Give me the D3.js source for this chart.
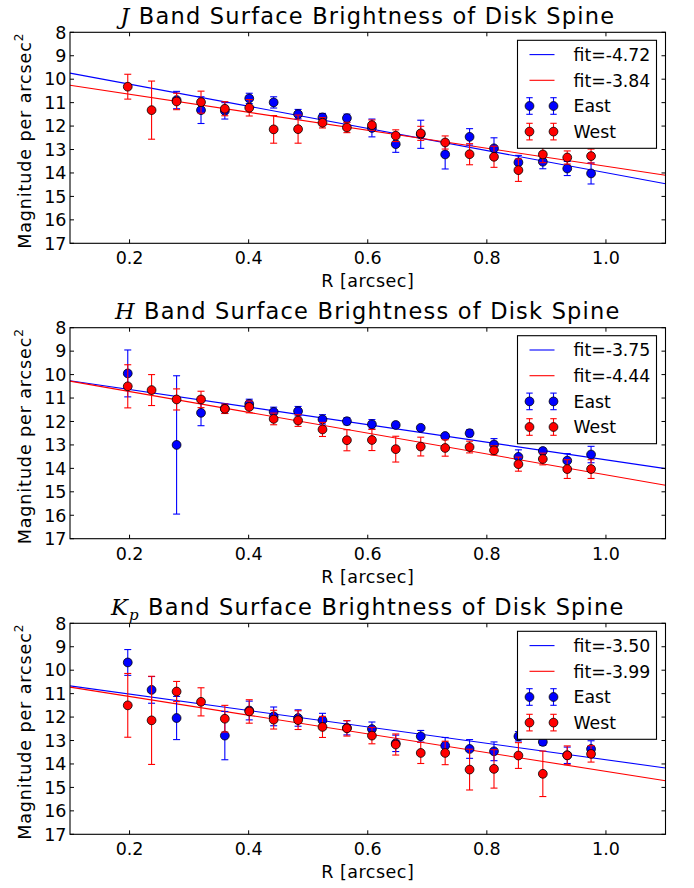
<!DOCTYPE html>
<html>
<head>
<meta charset="utf-8">
<script src="https://cdn.jsdelivr.net/npm/d3@7"></script>
<style>
  body { margin: 0; background: #fff; }
  svg { display: block; font-family: "DejaVu Sans", sans-serif; }
</style>
</head>
<body>
<div id="chart"></div>
<script>
// radial positions (arcsec), shared by all bands
var radius = [0.197, 0.237, 0.279, 0.320, 0.360, 0.401, 0.442, 0.483, 0.524, 0.565,
              0.607, 0.647, 0.689, 0.730, 0.771, 0.812, 0.853, 0.894, 0.935, 0.975]

// J band
var jEast    = [null, null, 10.89, 11.32, 11.35, 10.82, 10.99, 11.49, 11.63, 11.66,
                12.08, 12.77, 12.35, 13.21, 12.46, 12.95, 13.55, 13.52, 13.81, 14.02]
var jEastErr = [0, 0, 0.37, 0.57, 0.35, 0.22, 0.24, 0.2, 0.17, 0.17,
                0.38, 0.35, 0.6, 0.62, 0.35, 0.45, 0.3, 0.3, 0.3, 0.45]
var jWest    = [10.32, 11.32, 10.95, 10.98, 11.26, 11.22, 12.14, 12.13, 11.86, 12.06,
                11.96, 12.41, 12.31, 12.70, 13.20, 13.31, 13.88, 13.21, 13.34, 13.28]
var jWestErr = [0.53, 1.24, 0.35, 0.47, 0.3, 0.35, 0.59, 0.6, 0.22, 0.22,
                0.22, 0.25, 0.3, 0.28, 0.45, 0.45, 0.48, 0.35, 0.28, 0.3]
var jFit     = [-4.72, -3.84]   // East, West
var jFitZero = [9.268, 9.876]

// H band
var hEast    = [9.95, null, 13.0, 11.63, 11.45, 11.25, 11.59, 11.56, 11.91, 11.99,
                12.12, 12.15, 12.27, 12.62, 12.5, 12.98, 13.51, 13.26, 13.67, 13.41]
var hEastErr = [1.0, 0, 2.95, 0.55, 0.2, 0.2, 0.2, 0.2, 0.2, 0.15,
                0.2, 0.12, 0.1, 0.1, 0.15, 0.25, 0.3, 0.12, 0.3, 0.35]
var hWest    = [10.50, 10.66, 11.06, 11.06, 11.46, 11.38, 11.89, 11.96, 12.34, 12.80,
                12.79, 13.18, 13.07, 13.13, 13.09, 13.23, 13.82, 13.60, 14.03, 14.03]
var hWestErr = [0.92, 0.66, 0.45, 0.35, 0.2, 0.25, 0.25, 0.25, 0.3, 0.45,
                0.45, 0.55, 0.4, 0.35, 0.25, 0.2, 0.3, 0.25, 0.4, 0.4]
var hFit     = [-3.75, -4.44]
var hFitZero = [9.885, 9.836]

// Kp band
var kEast    = [9.67, 10.84, 12.04, null, 12.79, 11.72, 11.97, 12.04, 12.14, 12.46,
                12.51, 13.12, 12.82, 13.22, 13.36, 13.46, 12.82, 13.06, 13.63, 13.36]
var kEastErr = [0.55, 0.57, 0.92, 0, 1.03, 0.4, 0.4, 0.35, 0.3, 0.3,
                0.3, 0.35, 0.25, 0.35, 0.4, 0.4, 0.2, 0.15, 0.35, 0.35]
var kWest    = [11.5, 12.14, 10.91, 11.35, 12.07, 11.76, 12.11, 12.13, 12.42, 12.48,
                12.79, 13.17, 13.53, 13.53, 14.24, 14.21, 13.64, 14.42, 13.63, 13.57]
var kWestErr = [1.36, 1.88, 0.43, 0.6, 0.57, 0.5, 0.4, 0.4, 0.45, 0.33,
                0.35, 0.45, 0.45, 0.5, 0.87, 0.82, 0.55, 0.97, 0.4, 0.35]
var kFit     = [-3.50, -3.99]
var kFitZero = [10.32, 10.325]

var yTicks = [8, 9, 10, 11, 12, 13, 14, 15, 16, 17]
var xTicks = [0.2, 0.4, 0.6, 0.8, 1.0]
var seriesNames = ["East", "West"]
var seriesColors = ["#0000ff", "#ff0000"]

var panels = [
  {band: "J", sub: null, vals: [jEast, jWest], errs: [jEastErr, jWestErr], fit: jFit, zero: jFitZero},
  {band: "H", sub: null, vals: [hEast, hWest], errs: [hEastErr, hWestErr], fit: hFit, zero: hFitZero},
  {band: "K", sub: "p",  vals: [kEast, kWest], errs: [kEastErr, kWestErr], fit: kFit, zero: kFitZero}
]

var W = 694, H = 888
var left = 70, right = 665.5, plotH = 211
var tops = [32.3, 327.7, 623.3]

var svg = d3.select("#chart").append("svg")
  .attr("width", W).attr("height", H)

var x = d3.scaleLinear().domain([0.1, 1.1]).range([left, right])

panels.forEach(function(p, i) {
  var top = tops[i]
  var y = d3.scaleLinear().domain([8, 17]).range([top, top + plotH])
  var g = svg.append("g")

  // fit lines
  p.fit.forEach(function(slope, s) {
    var line = d3.line()
      .x(function(d) { return x(d) })
      .y(function(d) { return y(p.zero[s] - slope * d) })
    g.append("path")
      .datum(x.domain())
      .attr("d", line)
      .attr("fill", "none")
      .attr("stroke", seriesColors[s])
      .attr("stroke-width", 1.1)
  })

  // error bars + points, East then West
  p.vals.forEach(function(vals, s) {
    var pts = radius.map(function(r, k) { return {r: r, v: vals[k], e: p.errs[s][k]} })
      .filter(function(d) { return d.v !== null })
    var col = seriesColors[s]
    var eg = g.append("g").attr("stroke", col).attr("stroke-width", 1.1)
    eg.selectAll("line.bar").data(pts).enter().append("line")
      .attr("x1", function(d) { return x(d.r) }).attr("x2", function(d) { return x(d.r) })
      .attr("y1", function(d) { return y(d.v - d.e) }).attr("y2", function(d) { return y(d.v + d.e) })
    eg.selectAll("line.capt").data(pts).enter().append("line")
      .attr("x1", function(d) { return x(d.r) - 3.5 }).attr("x2", function(d) { return x(d.r) + 3.5 })
      .attr("y1", function(d) { return y(d.v - d.e) }).attr("y2", function(d) { return y(d.v - d.e) })
    eg.selectAll("line.capb").data(pts).enter().append("line")
      .attr("x1", function(d) { return x(d.r) - 3.5 }).attr("x2", function(d) { return x(d.r) + 3.5 })
      .attr("y1", function(d) { return y(d.v + d.e) }).attr("y2", function(d) { return y(d.v + d.e) })
    g.selectAll("circle.s" + s).data(pts).enter().append("circle")
      .attr("cx", function(d) { return x(d.r) })
      .attr("cy", function(d) { return y(d.v) })
      .attr("r", 4.4)
      .attr("fill", col)
      .attr("stroke", "#000")
      .attr("stroke-width", 0.8)
  })

  // axes frame
  g.append("rect")
    .attr("x", left).attr("y", top)
    .attr("width", right - left).attr("height", plotH)
    .attr("fill", "none").attr("stroke", "#000").attr("stroke-width", 1.1)

  var tl = 4
  g.selectAll("line.xt").data(xTicks).enter().append("line")
    .attr("x1", function(d) { return x(d) }).attr("x2", function(d) { return x(d) })
    .attr("y1", top + plotH).attr("y2", top + plotH - tl).attr("stroke", "#000")
  g.selectAll("line.xt2").data(xTicks).enter().append("line")
    .attr("x1", function(d) { return x(d) }).attr("x2", function(d) { return x(d) })
    .attr("y1", top).attr("y2", top + tl).attr("stroke", "#000")
  g.selectAll("line.yt").data(yTicks).enter().append("line")
    .attr("x1", left).attr("x2", left + tl)
    .attr("y1", function(d) { return y(d) }).attr("y2", function(d) { return y(d) }).attr("stroke", "#000")
  g.selectAll("line.yt2").data(yTicks).enter().append("line")
    .attr("x1", right).attr("x2", right - tl)
    .attr("y1", function(d) { return y(d) }).attr("y2", function(d) { return y(d) }).attr("stroke", "#000")

  // tick labels
  g.selectAll("text.xl").data(xTicks).enter().append("text")
    .attr("x", function(d) { return x(d) }).attr("y", top + plotH + 21)
    .attr("text-anchor", "middle").attr("font-size", 17.5)
    .text(function(d) { return d.toFixed(1) })
  g.selectAll("text.yl").data(yTicks).enter().append("text")
    .attr("x", left - 3.5).attr("y", function(d) { return y(d) + 6.3 })
    .attr("text-anchor", "end").attr("font-size", 17.5)
    .text(function(d) { return d })

  // axis labels
  g.append("text")
    .attr("x", (left + right) / 2).attr("y", top + plotH + 44)
    .attr("text-anchor", "middle").attr("font-size", 17.5).attr("letter-spacing", 0.5)
    .text("R [arcsec]")
  var yl = g.append("text")
    .attr("transform", "translate(31," + (top + plotH / 2 + 3) + ") rotate(-90)")
    .attr("text-anchor", "middle").attr("font-size", 17.5).attr("letter-spacing", 0.9)
  yl.append("tspan").text("Magnitude per arcsec")
  yl.append("tspan").attr("dy", -8).attr("font-size", 12).text("2")

  // title
  var t = g.append("text")
    .attr("x", (left + right) / 2).attr("y", top - 8.3)
    .attr("text-anchor", "middle").attr("font-size", 22.5).attr("letter-spacing", 1.2)
  t.append("tspan").attr("font-family", "DejaVu Serif").attr("font-style", "italic").text(p.band)
  if (p.sub) {
    t.append("tspan").attr("font-family", "DejaVu Serif").attr("font-style", "italic")
      .attr("font-size", 15).attr("dy", 5).text(p.sub)
    t.append("tspan").attr("dy", -5).text(" Band Surface Brightness of Disk Spine")
  } else {
    t.append("tspan").text(" Band Surface Brightness of Disk Spine")
  }

  // legend
  var lx = right - 9 - 139, ly = top + 8
  var lg = g.append("g")
  lg.append("rect").attr("x", lx).attr("y", ly).attr("width", 139).attr("height", 108)
    .attr("fill", "#fff").attr("stroke", "#000").attr("stroke-width", 1.1)
  var rows = [14.3, 40, 65.7, 91.3]
  p.fit.forEach(function(f, s) {
    var ry = ly + rows[s]
    lg.append("line").attr("x1", lx + 12).attr("x2", lx + 37).attr("y1", ry).attr("y2", ry)
      .attr("stroke", seriesColors[s]).attr("stroke-width", 1.1)
    lg.append("text").attr("x", lx + 56).attr("y", ry + 6.3).attr("font-size", 17.3)
      .text("fit=" + f.toFixed(2))
  })
  seriesNames.forEach(function(name, s) {
    var ry = ly + rows[s + 2]
    ;[lx + 12, lx + 36].forEach(function(mx) {
      lg.append("line").attr("x1", mx).attr("x2", mx).attr("y1", ry - 8.3).attr("y2", ry + 8.3)
        .attr("stroke", seriesColors[s]).attr("stroke-width", 1.1)
      lg.append("line").attr("x1", mx - 3.2).attr("x2", mx + 3.2).attr("y1", ry - 8.3).attr("y2", ry - 8.3)
        .attr("stroke", seriesColors[s]).attr("stroke-width", 1.1)
      lg.append("line").attr("x1", mx - 3.2).attr("x2", mx + 3.2).attr("y1", ry + 8.3).attr("y2", ry + 8.3)
        .attr("stroke", seriesColors[s]).attr("stroke-width", 1.1)
      lg.append("circle").attr("cx", mx).attr("cy", ry).attr("r", 4.4)
        .attr("fill", seriesColors[s]).attr("stroke", "#000").attr("stroke-width", 0.8)
    })
    lg.append("text").attr("x", lx + 56).attr("y", ry + 6.3).attr("font-size", 17.3).text(name)
  })
})
</script>
</body>
</html>
